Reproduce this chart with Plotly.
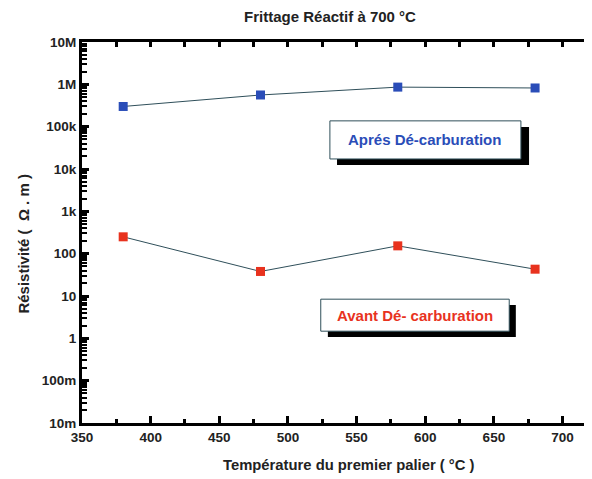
import plotly.graph_objects as go

temps = [380, 480, 580, 680]
apres = [3.0e5, 5.6e5, 8.6e5, 8.2e5]
avant = [250, 38, 153, 43]

decades = [-2, -1, 0, 1, 2, 3, 4, 5, 6]
minor_mult = [2, 3, 4, 5, 6, 7, 8, 9]
minor_vals = [m * 10 ** d for d in decades for m in minor_mult]
major_vals = [10 ** d for d in decades] + [1e7]
x_ticks = [350, 400, 450, 500, 550, 600, 650, 700]
x_minor = [375, 425, 475, 525, 575, 625, 675]

title = "Frittage Réactif à 700 °C"
xlabel = "Température du premier palier ( °C )"
ylabel = "Résistivité (\u00a0\u00a0Ω\u00a0.\u00a0m\u00a0)"
label_apres = "Aprés Dé-carburation"
label_avant = "Avant Dé- carburation"

line_col = "#2f4f5a"
blue = "#2a4db8"
red = "#e8321e"
font = "Liberation Sans, Arial, sans-serif"
XR = [350, 720]
YR = [-2, 7]

# the page body has an 8px margin: the figure is sized to fit the 592x479 window
fig = go.Figure()
fig.add_trace(go.Scatter(x=temps, y=apres, mode="lines+markers",
                         line=dict(color=line_col, width=1),
                         marker=dict(symbol="square", size=9, color=blue),
                         showlegend=False))
fig.add_trace(go.Scatter(x=temps, y=avant, mode="lines+markers",
                         line=dict(color=line_col, width=1),
                         marker=dict(symbol="square", size=9, color=red),
                         showlegend=False))
# invisible helpers so that the tick-only overlay axes get drawn
for xa, ya in [("x", "y2"), ("x", "y3"), ("x2", "y"), ("x3", "y")]:
    fig.add_trace(go.Scatter(x=temps, y=apres, xaxis=xa, yaxis=ya, mode="markers",
                             opacity=0, showlegend=False, hoverinfo="skip"))

bold = dict(size=13.5, family=font, weight="bold", color="#222")

fig.update_layout(
    width=584, height=471,
    margin=dict(l=74, r=2, t=34, b=56),
    paper_bgcolor="white", plot_bgcolor="rgba(0,0,0,0)",
    font=dict(family=font, size=13, color="#222"),
    showlegend=False,
    title=dict(text="<b>" + title + "</b>", x=(330 - 8) / 584, xanchor="center",
               y=1 - 3 / 471, yanchor="top", font=dict(size=15)),
    xaxis=dict(range=XR, tickmode="array", tickvals=x_ticks,
               ticks="inside", ticklen=7, tickwidth=2.5, tickcolor="black",
               showline=True, linewidth=3, linecolor="black",
               showgrid=False, zeroline=False, automargin=False, tickfont=bold),
    xaxis2=dict(range=XR, overlaying="x", side="bottom", anchor="y",
                tickmode="array", tickvals=x_minor, showticklabels=False,
                ticks="inside", ticklen=4, tickwidth=2.5, tickcolor="black",
                showline=False, showgrid=False, zeroline=False, automargin=False),
    xaxis3=dict(range=XR, overlaying="x", side="top", anchor="y",
                tickmode="array", tickvals=x_ticks + x_minor, showticklabels=False,
                ticks="inside", ticklen=5, tickwidth=2.5, tickcolor="black",
                showline=True, linewidth=3, linecolor="black",
                showgrid=False, zeroline=False, automargin=False),
    yaxis=dict(type="log", range=YR, tickmode="array", tickvals=major_vals, tickformat="~s",
               ticks="inside", ticklen=7, tickwidth=2.5, tickcolor="black",
               showline=True, linewidth=3, linecolor="black",
               showgrid=False, zeroline=False, automargin=False, tickfont=bold),
    yaxis2=dict(type="log", range=YR, overlaying="y", side="left", anchor="x",
                tickmode="array", tickvals=minor_vals, showticklabels=False,
                ticks="inside", ticklen=5, tickwidth=2, tickcolor="black",
                showgrid=False, zeroline=False, showline=False, automargin=False),
    yaxis3=dict(type="log", range=YR, overlaying="y", side="right", anchor="x",
                tickmode="array", tickvals=major_vals, showticklabels=False,
                ticks="inside", ticklen=4, tickwidth=3, tickcolor="black",
                showgrid=False, zeroline=False, showline=True, linewidth=1,
                linecolor="#c8c8c8", automargin=False),
)

# shadows (below) and boxes
fig.add_shape(type="rect", xref="paper", yref="paper", x0=0.502, x1=0.880, y0=0.677, y1=0.777,
              fillcolor="black", line=dict(width=0), layer="below")
fig.add_shape(type="rect", xref="paper", yref="paper", x0=0.488, x1=0.864, y0=0.693, y1=0.793,
              fillcolor="white", line=dict(width=1, color=line_col), layer="below")
fig.add_shape(type="rect", xref="paper", yref="paper", x0=0.484, x1=0.854, y0=0.226, y1=0.310,
              fillcolor="black", line=dict(width=0), layer="below")
fig.add_shape(type="rect", xref="paper", yref="paper", x0=0.470, x1=0.841, y0=0.241, y1=0.325,
              fillcolor="white", line=dict(width=1, color=line_col), layer="below")

fig.add_annotation(xref="paper", yref="paper", x=0.675, y=0.743, xanchor="center", yanchor="middle",
                   showarrow=False,
                   text="<b>" + label_apres + "</b>", font=dict(size=15, color=blue, family=font))
fig.add_annotation(xref="paper", yref="paper", x=0.656, y=0.283, xanchor="center", yanchor="middle",
                   showarrow=False,
                   text="<b>" + label_avant + "</b>", font=dict(size=15, color=red, family=font))

# axis titles
fig.add_annotation(xref="paper", yref="paper", x=0.526, y=-0.110, xanchor="center", yanchor="middle",
                   showarrow=False, text="<b>" + xlabel + "</b>",
                   font=dict(size=14.8, color="#222", family=font))
fig.add_annotation(xref="paper", yref="paper", x=-0.116, y=0.471, xanchor="center", yanchor="middle",
                   showarrow=False, textangle=-90, text="<b>" + ylabel + "</b>",
                   font=dict(size=15, color="#222", family=font))

fig.write_html("out.html")
